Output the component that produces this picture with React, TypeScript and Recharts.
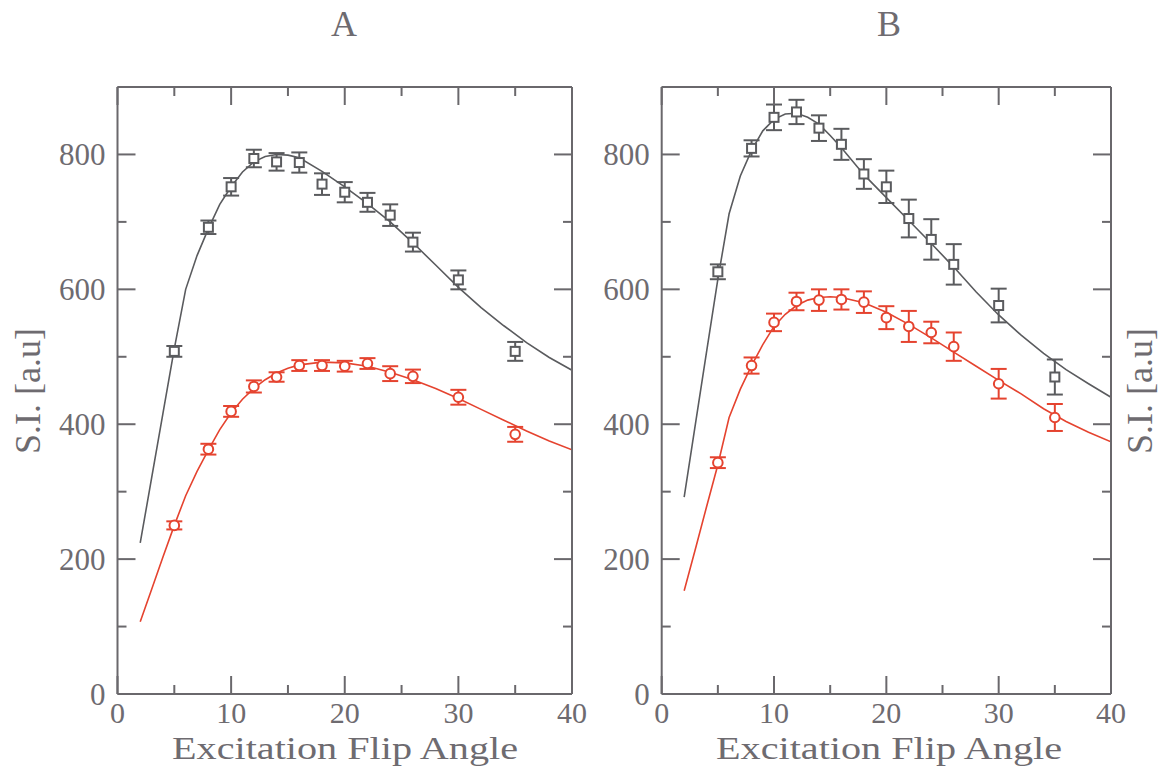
import React from 'react';
import { ComposedChart, Line, Scatter, XAxis, YAxis, ErrorBar } from 'recharts';

// ---------- data ----------
const measuredAngles = [5, 8, 10, 12, 14, 16, 18, 20, 22, 24, 26, 30, 35];
const fitAngles = [2, 3, 4, 5, 6, 7, 8, 9, 10, 11, 12, 13, 14, 15, 16, 18, 20, 22, 24, 26, 28, 30, 32, 34, 36, 38, 40];

// Panel A
const aSquaresSI = [508, 692, 752, 794, 789, 788, 756, 744, 729, 710, 670, 614, 508];
const aSquaresErr = [8, 10, 13, 13, 13, 15, 16, 15, 14, 16, 14, 14, 14];
const aCirclesSI = [250, 363, 419, 456, 470, 487, 487, 486, 490, 475, 471, 440, 385];
const aCirclesErr = [6, 8, 8, 9, 7, 8, 8, 8, 8, 11, 10, 11, 11];
const aSquaresFit = [224, 320, 416, 512, 600, 650, 690, 726, 752, 774, 789, 797, 800, 799, 795, 775, 752, 727, 700, 669, 636, 603, 573, 546, 521, 499, 480];
const aCirclesFit = [107, 155, 203, 250, 294, 330, 362, 392, 417, 437, 453, 466, 476, 483, 488, 492, 491, 486, 477, 466, 453, 438, 422, 406, 390, 375, 362];

// Panel B
const bSquaresSI = [626, 809, 855, 863, 839, 815, 771, 752, 705, 674, 637, 576, 470];
const bSquaresErr = [11, 12, 19, 18, 19, 23, 22, 24, 28, 30, 30, 25, 26];
const bCirclesSI = [343, 487, 551, 582, 584, 585, 581, 558, 545, 536, 515, 460, 410];
const bCirclesErr = [8, 12, 13, 13, 16, 15, 16, 17, 23, 16, 21, 22, 20];
const bSquaresFit = [292, 400, 508, 615, 712, 768, 806, 835, 852, 860, 861, 855, 845, 828, 810, 770, 736, 702, 668, 633, 596, 562, 532, 505, 481, 460, 440];
const bCirclesFit = [153, 215, 278, 340, 410, 452, 487, 518, 545, 563, 576, 584, 588, 589, 588, 580, 566, 548, 528, 507, 486, 465, 445, 423, 404, 388, 374];

const xTicks = [0, 5, 10, 15, 20, 25, 30, 35, 40];
const xLabelTicks = [0, 10, 20, 30, 40];
const yTicks = [0, 100, 200, 300, 400, 500, 600, 700, 800, 900];
const yLabelTicks = [0, 200, 400, 600, 800];

const panelTitles = ['A', 'B'];
const xTitle = 'Excitation Flip Angle';
const yTitle = 'S.I. [a.u]';

// ---------- style ----------
const FRAME = '#6a686c';
const TEXT = '#6e6b70';
const DARK = '#5a5b5e';
const RED = '#e5432f';
const FONT = '"Liberation Serif", "Times New Roman", serif';
const MAJOR = 18;
const MINOR = 9;

const fitData = (ys: number[]) => fitAngles.map((x, i) => ({ x, y: ys[i] }));
const pointData = (ys: number[], es: number[]) => measuredAngles.map((x, i) => ({ x, y: ys[i], err: es[i] }));

const BottomTick = (p: any) => {
  const v = p.payload.value;
  const major = xLabelTicks.includes(v);
  return (
    <g>
      <line x1={p.x} x2={p.x} y1={p.y} y2={p.y - (major ? MAJOR : MINOR)} stroke={FRAME} strokeWidth={2} />
      {major && (
        <text x={p.x} y={p.y + 29} textAnchor="middle" fontSize={30} fill={TEXT} fontFamily={FONT}>
          {v}
        </text>
      )}
    </g>
  );
};

const TopTick = (p: any) => {
  const v = p.payload.value;
  const major = xLabelTicks.includes(v);
  return <line x1={p.x} x2={p.x} y1={p.y} y2={p.y + (major ? MAJOR : MINOR)} stroke={FRAME} strokeWidth={2} />;
};

const LeftTick = (p: any) => {
  const v = p.payload.value;
  const major = yLabelTicks.includes(v);
  return (
    <g>
      <line x1={p.x} x2={p.x + (major ? MAJOR : MINOR)} y1={p.y} y2={p.y} stroke={FRAME} strokeWidth={2} />
      {major && (
        <text x={p.x - 12} y={p.y + 11} textAnchor="end" fontSize={31} fill={TEXT} fontFamily={FONT}>
          {v}
        </text>
      )}
    </g>
  );
};

const RightTick = (p: any) => {
  const v = p.payload.value;
  const major = yLabelTicks.includes(v);
  return <line x1={p.x} x2={p.x - (major ? MAJOR : MINOR)} y1={p.y} y2={p.y} stroke={FRAME} strokeWidth={2} />;
};

const makeSquare = (color: string) => (p: any) => (
  <rect x={p.cx - 4.5} y={p.cy - 4.5} width={9} height={9} fill="#ffffff" stroke={color} strokeWidth={2} />
);
const makeCircle = (color: string) => (p: any) => (
  <circle cx={p.cx} cy={p.cy} r={4.8} fill="#ffffff" stroke={color} strokeWidth={2} />
);

type PanelProps = {
  left: number;
  marginLeft: number;
  marginRight: number;
  squaresSI: number[];
  squaresErr: number[];
  circlesSI: number[];
  circlesErr: number[];
  squaresFit: number[];
  circlesFit: number[];
};

const CHART_W = 590;
const CHART_H = 769;

const Panel = (props: PanelProps) => {
  const axisLine = { stroke: FRAME, strokeWidth: 2 };
  return (
    <div style={{ position: 'absolute', left: props.left, top: 0 }}>
      <ComposedChart
        width={CHART_W}
        height={CHART_H}
        margin={{ top: 77, bottom: 45, left: props.marginLeft, right: props.marginRight }}
      >
        <XAxis
          xAxisId={0}
          dataKey="x"
          type="number"
          domain={[0, 40]}
          ticks={xTicks}
          interval={0}
          allowDataOverflow
          orientation="bottom"
          height={30}
          tickSize={0}
          tickMargin={0}
          tickLine={false}
          axisLine={axisLine}
          tick={<BottomTick />}
        />
        <XAxis
          xAxisId="top"
          dataKey="x"
          type="number"
          domain={[0, 40]}
          ticks={xTicks}
          interval={0}
          allowDataOverflow
          orientation="top"
          height={10}
          tickSize={0}
          tickMargin={0}
          tickLine={false}
          axisLine={axisLine}
          tick={<TopTick />}
        />
        <YAxis
          yAxisId={0}
          type="number"
          domain={[0, 900]}
          ticks={yTicks}
          interval={0}
          allowDataOverflow
          orientation="left"
          width={60}
          tickSize={0}
          tickMargin={0}
          tickLine={false}
          axisLine={axisLine}
          tick={<LeftTick />}
        />
        <YAxis
          yAxisId="right"
          type="number"
          domain={[0, 900]}
          ticks={yTicks}
          interval={0}
          allowDataOverflow
          orientation="right"
          width={10}
          tickSize={0}
          tickMargin={0}
          tickLine={false}
          axisLine={axisLine}
          tick={<RightTick />}
        />
        <Line
          data={fitData(props.squaresFit)}
          dataKey="y"
          type="linear"
          stroke={DARK}
          strokeWidth={1.6}
          dot={false}
          activeDot={false}
          isAnimationActive={false}
        />
        <Line
          data={fitData(props.circlesFit)}
          dataKey="y"
          type="linear"
          stroke={RED}
          strokeWidth={1.6}
          dot={false}
          activeDot={false}
          isAnimationActive={false}
        />
        <Scatter
          data={pointData(props.squaresSI, props.squaresErr)}
          dataKey="y"
          shape={makeSquare(DARK)}
          isAnimationActive={false}
        >
          <ErrorBar dataKey="err" direction="y" width={8} stroke={DARK} strokeWidth={2} isAnimationActive={false} />
        </Scatter>
        <Scatter
          data={pointData(props.circlesSI, props.circlesErr)}
          dataKey="y"
          shape={makeCircle(RED)}
          isAnimationActive={false}
        >
          <ErrorBar dataKey="err" direction="y" width={8} stroke={RED} strokeWidth={2} isAnimationActive={false} />
        </Scatter>
      </ComposedChart>
    </div>
  );
};

const Titles = () => (
  <svg
    width={1169}
    height={769}
    style={{ position: 'absolute', left: 0, top: 0, pointerEvents: 'none' }}
  >
    <text x={344} y={36} textAnchor="middle" fontSize={36} fill={TEXT} fontFamily={FONT}>{panelTitles[0]}</text>
    <text x={889} y={36} textAnchor="middle" fontSize={36} fill={TEXT} fontFamily={FONT}>{panelTitles[1]}</text>
    <text x={345} y={759} textAnchor="middle" fontSize={32} fill={TEXT} fontFamily={FONT} textLength={346} lengthAdjust="spacingAndGlyphs">{xTitle}</text>
    <text x={889} y={759} textAnchor="middle" fontSize={32} fill={TEXT} fontFamily={FONT} textLength={346} lengthAdjust="spacingAndGlyphs">{xTitle}</text>
    <text x={40} y={391} textAnchor="middle" fontSize={36} fill={TEXT} fontFamily={FONT} transform="rotate(-90 40 391)">{yTitle}</text>
    <text x={1152} y={391} textAnchor="middle" fontSize={36} fill={TEXT} fontFamily={FONT} transform="rotate(-90 1152 391)">{yTitle}</text>
  </svg>
);

export default function App() {
  return (
    <div style={{ position: 'absolute', left: 0, top: 0, width: 1169, height: 769, background: '#ffffff', overflow: 'hidden' }}>
      <Panel
        left={0}
        marginLeft={57.5}
        marginRight={8}
        squaresSI={aSquaresSI}
        squaresErr={aSquaresErr}
        circlesSI={aCirclesSI}
        circlesErr={aCirclesErr}
        squaresFit={aSquaresFit}
        circlesFit={aCirclesFit}
      />
      <Panel
        left={560}
        marginLeft={41.7}
        marginRight={29}
        squaresSI={bSquaresSI}
        squaresErr={bSquaresErr}
        circlesSI={bCirclesSI}
        circlesErr={bCirclesErr}
        squaresFit={bSquaresFit}
        circlesFit={bCirclesFit}
      />
      <Titles />
    </div>
  );
}
